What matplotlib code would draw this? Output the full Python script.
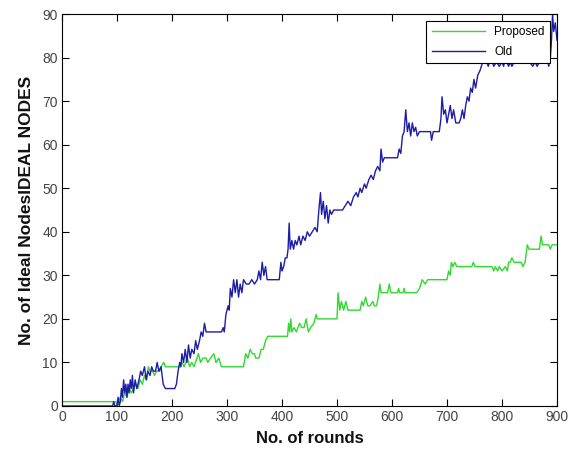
import matplotlib
matplotlib.use('Agg')
import matplotlib.pyplot as plt

# Proposed scheme: ideal nodes per round
prop_x = [0, 98, 100, 102, 106, 110, 114, 118, 122, 126, 130, 134, 138, 142, 146, 150, 154, 157, 160,
          165, 168, 172, 178, 180, 185, 188, 215, 218, 222, 228, 232, 236, 240, 248, 252, 256, 262, 265,
          270, 276, 280, 285, 290, 295, 330, 334, 338, 342, 346, 350, 352, 358, 362, 366, 370, 374, 405,
          410, 412, 414, 416, 418, 422, 426, 432, 436, 440, 444, 448, 452, 458, 462, 464, 500, 502, 505,
          508, 512, 516, 520, 542, 545, 548, 552, 556, 560, 565, 568, 572, 575, 578, 580, 590, 592, 595,
          598, 610, 612, 614, 620, 622, 624, 645, 650, 655, 660, 665, 700, 703, 706, 708, 711, 714, 718,
          745, 748, 751, 782, 785, 788, 792, 795, 800, 806, 810, 812, 815, 818, 822, 835, 838, 842, 846,
          849, 855, 860, 868, 871, 874, 880, 885, 888, 891, 900]
prop_y = [1, 1, 0, 1, 2, 1, 3, 2, 4, 3, 4, 5, 4, 6, 5, 7, 6, 9, 8,
          8, 7, 8, 8, 9, 10, 9, 9, 10, 9, 11, 9, 10, 9, 12, 10, 11, 11, 10,
          11, 12, 10, 11, 9, 9, 9, 12, 11, 13, 12, 12, 11, 11, 13, 13, 15, 16, 16,
          16, 19, 17, 20, 17, 18, 17, 19, 18, 18, 20, 17, 18, 19, 21, 20, 20, 26, 22,
          24, 22, 24, 22, 22, 24, 23, 25, 23, 23, 24, 23, 23, 25, 28, 26, 26, 26, 28,
          26, 26, 27, 26, 26, 27, 26, 26, 27, 29, 28, 29, 29, 31, 30, 33, 32, 33, 32,
          32, 33, 32, 32, 31, 32, 31, 32, 31, 32, 31, 33, 33, 34, 33, 33, 32, 33, 37,
          36, 36, 36, 36, 39, 37, 37, 37, 36, 37, 37]

# Old scheme
old_x = [0, 92, 94, 96, 100, 102, 104, 106, 108, 110, 112, 114, 116, 118, 120, 122, 124, 126, 128, 130,
         133, 136, 140, 143, 146, 150, 153, 156, 160, 163, 166, 170, 173, 176, 180, 184, 188, 205, 208,
         211, 214, 216, 218, 221, 224, 227, 230, 233, 236, 240, 243, 246, 250, 253, 256, 259, 262, 268,
         290, 293, 295, 298, 302, 304, 306, 309, 312, 315, 318, 321, 324, 327, 330, 335, 340, 345, 350,
         355, 358, 361, 364, 367, 370, 373, 377, 395, 398, 400, 403, 406, 409, 411, 413, 415, 418, 421,
         424, 427, 431, 434, 438, 442, 446, 450, 455, 460, 464, 467, 470, 472, 475, 478, 481, 484, 487,
         490, 494, 510, 515, 520, 525, 530, 535, 538, 542, 545, 550, 553, 558, 562, 566, 570, 574, 578,
         580, 583, 586, 610, 613, 616, 619, 622, 625, 628, 631, 634, 637, 640, 643, 646, 650, 670, 672,
         675, 686, 689, 691, 694, 697, 700, 703, 706, 709, 712, 716, 722, 725, 728, 731, 734, 737, 740,
         743, 746, 749, 752, 756, 760, 765, 770, 775, 780, 785, 790, 795, 800, 803, 806, 812, 815, 818,
         822, 850, 856, 860, 864, 868, 878, 882, 885, 888, 890, 892, 894, 897, 900]
old_y = [0, 0, 1, 0, 0, 2, 0, 1, 4, 2, 6, 3, 5, 2, 5, 3, 6, 4, 7, 3,
         6, 4, 6, 8, 7, 9, 6, 8, 7, 9, 8, 8, 10, 8, 9, 5, 4, 4, 5,
         8, 10, 9, 12, 10, 13, 10, 14, 11, 13, 12, 15, 13, 15, 17, 16, 19, 17, 17,
         17, 18, 17, 21, 23, 22, 27, 25, 29, 26, 29, 25, 28, 26, 29, 28, 28, 29, 28,
         29, 31, 29, 33, 30, 32, 29, 29, 29, 33, 31, 32, 34, 34, 36, 42, 36, 38, 36,
         38, 37, 39, 37, 39, 38, 40, 39, 40, 41, 40, 45, 49, 44, 47, 43, 46, 42, 45,
         44, 45, 45, 46, 47, 46, 48, 49, 48, 50, 49, 51, 50, 52, 53, 52, 54, 55, 54,
         59, 56, 57, 57, 59, 58, 62, 63, 68, 63, 65, 62, 65, 63, 64, 62, 63, 63, 61,
         63, 63, 66, 71, 67, 68, 65, 67, 69, 66, 68, 65, 65, 66, 68, 66, 69, 71, 70,
         73, 72, 75, 73, 76, 77, 79, 80, 78, 80, 78, 79, 78, 79, 78, 80, 78, 79, 78,
         79, 79, 78, 79, 78, 79, 79, 80, 78, 80, 84, 90, 86, 88, 84]

plt.rcParams['font.family'] = ['Liberation Sans', 'DejaVu Sans']

fig = plt.figure(figsize=(5.77, 4.53), dpi=100)
ax = fig.add_axes([0.1075, 0.1038, 0.8578, 0.8652])

ax.plot(prop_x, prop_y, color='#30d830', lw=1.0, label='Proposed')
ax.plot(old_x, old_y, color='#1c1ca8', lw=1.0, label='Old')

ax.set_xlim(0, 900)
ax.set_ylim(0, 90)
ax.set_xticks(range(0, 901, 100))
ax.set_yticks(range(0, 91, 10))
ax.tick_params(direction='in', top=True, right=True, length=5, width=0.8,
               labelsize=10, labelcolor='#444444', pad=3)
for s in ax.spines.values():
    s.set_linewidth(0.8)

ax.set_xlabel('No. of rounds', fontsize=12, fontweight='bold', color='#111111', labelpad=5)
ax.set_ylabel('No. of Ideal NodesIDEAL NODES', fontsize=12.5, fontweight='bold', color='#111111', labelpad=6)

leg = ax.legend(loc='upper right', fontsize=8.5, fancybox=False, framealpha=1,
                edgecolor='black', borderaxespad=0.6, handlelength=4.5,
                borderpad=0.45, labelspacing=0.65)
leg.get_frame().set_linewidth(0.8)

fig.savefig('out.png', dpi=100)
